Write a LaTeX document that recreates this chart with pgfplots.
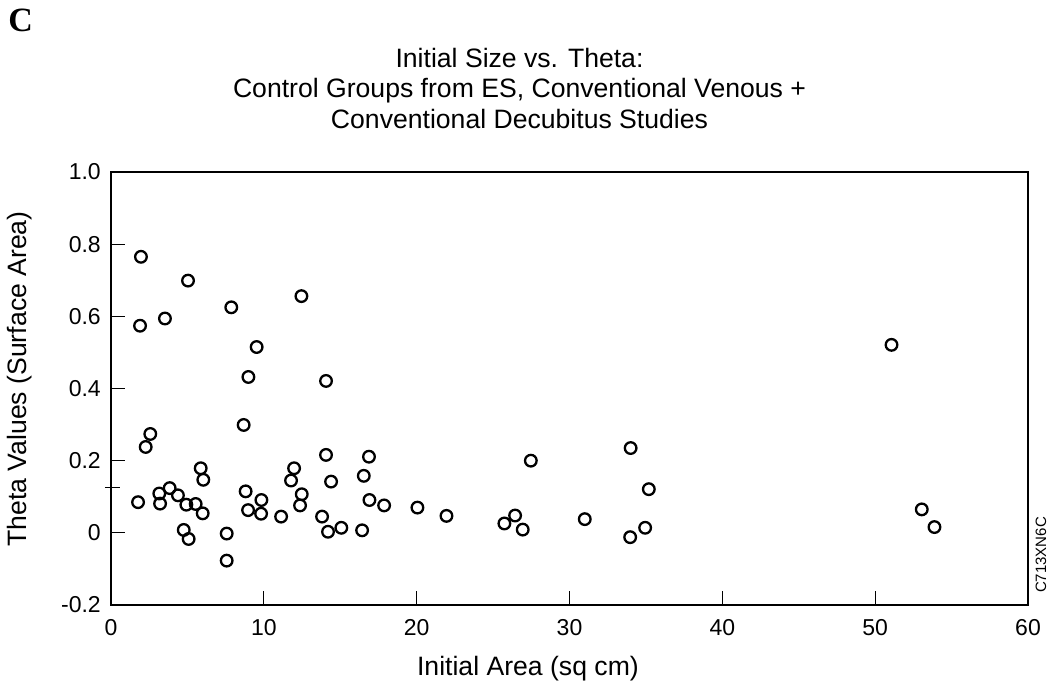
\documentclass[border=0pt]{standalone}
\usepackage{fontspec}
\setmainfont{Liberation Sans}
\newfontfamily\serifbold{Liberation Serif}
\usepackage{pgfplots}
\pgfplotsset{compat=1.18}
\usetikzlibrary{calc}

\begin{document}
\begin{tikzpicture}
\begin{axis}[
    name=ax,
    scale only axis,
    width=458.5pt,
    height=216.5pt,
    xmin=0, xmax=60,
    ymin=-0.2, ymax=1.0,
    xtick={0,10,...,60},
    ytick={-0.2,0,0.2,0.4,0.6,0.8,1.0},
    yticklabels={-0.2,0,0.2,0.4,0.6,0.8,1.0},
    tick pos=left,
    tick align=inside,
    major tick length=7pt,
    axis line style={line width=0.8pt},
    tick style={line width=0.5pt, black},
    /pgf/number format/assume math mode=true,
    ticklabel style={font=\fontsize{11.5}{13}\selectfont},
    xticklabel style={anchor=base, yshift=-15pt},
    yticklabel style={anchor=east, xshift=-1.6pt},
    label style={font=\fontsize{13.3}{16}\selectfont},
    xlabel={Initial Area (sq cm)},
    xlabel style={at={(axis description cs:0.4547,-0.1617)}, anchor=base},
    ylabel={Theta Values (Surface Area)},
    ylabel style={at={(axis description cs:-0.0992,0.522)}, anchor=center},
    clip=false,
]
\addplot[only marks, mark=o, mark size=2.9pt, mark options={line width=1.15pt, black}] table {
x y
1.96 0.765
5.04 0.699
7.87 0.625
12.46 0.656
1.90 0.574
3.53 0.594
9.53 0.515
8.99 0.432
14.07 0.421
8.68 0.299
2.57 0.274
2.27 0.238
14.07 0.216
16.88 0.211
5.87 0.179
11.98 0.179
16.54 0.158
6.04 0.147
11.78 0.145
14.40 0.142
1.77 0.085
3.16 0.109
3.21 0.081
3.84 0.124
4.38 0.104
4.93 0.078
5.54 0.080
6.00 0.054
4.76 0.008
5.08 -0.017
7.57 -0.002
7.57 -0.077
8.81 0.115
8.97 0.063
9.84 0.091
9.82 0.053
11.13 0.045
12.48 0.107
12.37 0.076
13.81 0.045
14.20 0.003
15.07 0.014
16.43 0.007
16.91 0.091
17.87 0.076
20.05 0.070
21.95 0.047
27.47 0.200
34.00 0.235
35.19 0.121
26.44 0.048
25.74 0.026
26.94 0.009
31.00 0.038
34.95 0.014
33.97 -0.012
51.07 0.521
53.05 0.065
53.88 0.016
};
% stray tick mark on the left axis
\draw[line width=0.5pt] ([xshift=-3pt]axis cs:0,0.127) -- ([xshift=4.5pt]axis cs:0,0.127);
\end{axis}

% titles and side labels
\node[anchor=base, font=\fontsize{13.3}{16}\selectfont] at ($(ax.south)+(-25pt,269pt)$) {Initial Size vs. Theta:};
\node[anchor=base, font=\fontsize{13.3}{16}\selectfont] at ($(ax.south)+(-25pt,253.75pt)$) {Control Groups from ES, Conventional Venous +};
\node[anchor=base, font=\fontsize{13.3}{16}\selectfont] at ($(ax.south)+(-25pt,238.5pt)$) {Conventional Decubitus Studies};
\node[anchor=base west, inner sep=0pt, font=\serifbold\bfseries\fontsize{17}{20}\selectfont] at ($(ax.south west)+(-51.5pt,286.5pt)$) {C};
\node[rotate=90, anchor=center, inner sep=0pt, font=\fontsize{7.5}{9}\selectfont] at ($(ax.south east)+(6.5pt,25pt)$) {C713XN6C};

\pgfresetboundingbox
\useasboundingbox ($(ax.south west)+(-55.5pt,-41pt)$) rectangle ($(ax.north east)+(12.5pt,86pt)$);
\end{tikzpicture}
\end{document}
